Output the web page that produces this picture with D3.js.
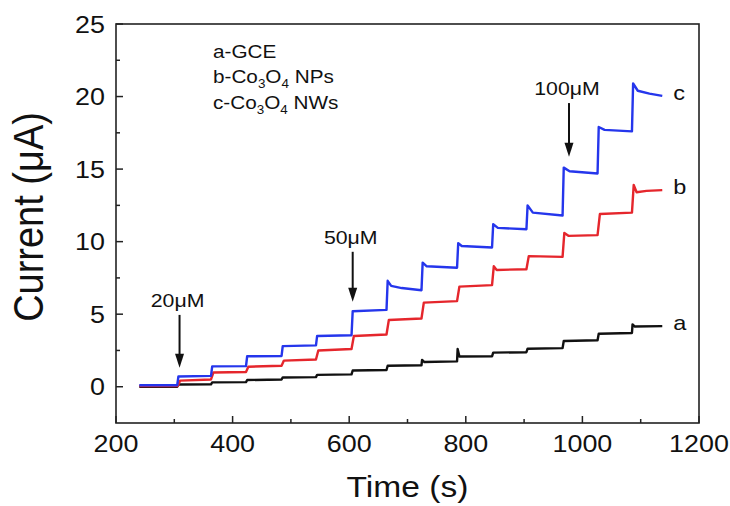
<!DOCTYPE html>
<html>
<head>
<meta charset="utf-8">
<script src="https://cdn.jsdelivr.net/npm/d3@7"></script>
<style>
	body { margin: 0; background: #fff; }
	text { font-family: Arial, "Liberation Sans", sans-serif; fill: #111; }
</style>
</head>
<body>
<svg width="730" height="506"></svg>
<script>
// Data: [time (s), current (uA)]
var curveA = [[240,0],[305,0],[307,0.15],[363,0.17],[365,0.3],[423,0.32],[425,0.46],[484,0.5],[486,0.64],[543,0.66],[545,0.82],[604,0.85],[606,1.12],[664,1.15],[666,1.45],[724,1.48],[725,1.85],[729,1.7],[785,1.75],[786,2.6],[789,2.08],[845,2.1],[847,2.35],[904,2.38],[906,2.62],[966,2.66],[968,3.15],[1026,3.2],[1028,3.65],[1085,3.7],[1086,4.3],[1090,4.15],[1137,4.18]];
var curveB = [[240,0.05],[306,0.05],[310,0.42],[363,0.5],[367,0.98],[423,1.02],[427,1.38],[484,1.45],[488,1.8],[543,1.88],[547,2.5],[604,2.6],[608,3.5],[664,3.6],[668,4.6],[724,4.7],[728,5.8],[785,5.9],[789,6.9],[845,7.0],[848,8.3],[853,8.05],[904,8.1],[908,9.0],[966,8.95],[969,10.6],[976,10.4],[1026,10.45],[1030,11.9],[1085,12.0],[1088,13.9],[1093,13.4],[1110,13.5],[1137,13.55]];
var curveC = [[240,0.1],[305,0.1],[307,0.7],[363,0.75],[365,1.4],[423,1.42],[425,2.1],[484,2.12],[486,2.8],[543,2.85],[545,3.5],[604,3.55],[606,5.2],[664,5.3],[666,7.3],[672,6.95],[690,6.8],[724,6.65],[726,8.55],[733,8.3],[785,8.2],[787,9.9],[793,9.7],[845,9.6],[847,11.2],[855,10.95],[904,10.85],[906,12.5],[915,12.0],[966,11.8],[968,15.1],[978,14.85],[1026,14.7],[1028,17.9],[1038,17.7],[1085,17.6],[1087,20.9],[1095,20.4],[1115,20.2],[1137,20.05]];

var seriesNames = ["a", "b", "c"];
var seriesColors = ["#111111", "#e5262c", "#2536ec"];
var seriesData = [curveA, curveB, curveC];

var arrowLabels = ["20\u03bcM", "50\u03bcM", "100\u03bcM"];
var arrowTimes = [309, 606, 977];
var arrowTops = [4.95, 9.3, 19.55];
var arrowTips = [1.3, 5.85, 15.85];

var xTicks = [200, 400, 600, 800, 1000, 1200];
var xMinor = [300, 500, 700, 900, 1100];
var yTicks = [0, 5, 10, 15, 20, 25];
var yMinor = [2.5, 7.5, 12.5, 17.5, 22.5];

// Sizing Stuff
var svg = d3.select("svg");
var plotLeft = 116, plotRight = 699, plotTop = 24, plotBottom = 423;
var stretch = 1.12; // the picture's text is a little wide

var xscale = d3.scaleLinear().domain([200, 1200]).range([plotLeft, plotRight]);
var yscale = d3.scaleLinear().domain([-2.5, 25]).range([plotBottom, plotTop]);

function stretchedText(x, y) {
	return svg.append("text").attr("transform", `translate(${x}, ${y}) scale(${stretch}, 1)`);
}

// curves
var line = d3.line().x((d) => xscale(d[0])).y((d) => yscale(d[1]));
seriesData.forEach((data, i) => {
	svg.append("path")
		.attr("d", line(data))
		.attr("fill", "none")
		.attr("stroke", seriesColors[i])
		.attr("stroke-width", 2.4)
		.attr("stroke-linejoin", "round");

	var last = data[data.length - 1];
	stretchedText(xscale(last[0]) + 11, yscale(last[1]) + 4)
		.style("font-size", "21px")
		.text(seriesNames[i]);
});

// frame
svg.append("rect")
	.attr("x", plotLeft).attr("y", plotTop)
	.attr("width", plotRight - plotLeft).attr("height", plotBottom - plotTop)
	.attr("fill", "none").attr("stroke", "#222").attr("stroke-width", 1.6);

// ticks point inwards
var xaxis = svg.append("g").attr("transform", `translate(0, ${plotBottom})`);
xaxis.selectAll("line.major").data(xTicks).enter().append("line")
	.attr("x1", (d) => xscale(d)).attr("x2", (d) => xscale(d))
	.attr("y1", 0).attr("y2", -7).attr("stroke", "#222").attr("stroke-width", 1.5);
xaxis.selectAll("line.minor").data(xMinor).enter().append("line")
	.attr("x1", (d) => xscale(d)).attr("x2", (d) => xscale(d))
	.attr("y1", 0).attr("y2", -4).attr("stroke", "#222").attr("stroke-width", 1.5);
xTicks.forEach((d) => {
	stretchedText(xscale(d), 452)
		.attr("text-anchor", "middle")
		.style("font-size", "24px")
		.text(d);
});

var yaxis = svg.append("g").attr("transform", `translate(${plotLeft}, 0)`);
yaxis.selectAll("line.major").data(yTicks).enter().append("line")
	.attr("y1", (d) => yscale(d)).attr("y2", (d) => yscale(d))
	.attr("x1", 0).attr("x2", 7).attr("stroke", "#222").attr("stroke-width", 1.5);
yaxis.selectAll("line.minor").data(yMinor).enter().append("line")
	.attr("y1", (d) => yscale(d)).attr("y2", (d) => yscale(d))
	.attr("x1", 0).attr("x2", 4).attr("stroke", "#222").attr("stroke-width", 1.5);
yTicks.forEach((d) => {
	stretchedText(105, yscale(d) + 8.5)
		.attr("text-anchor", "end")
		.style("font-size", "24px")
		.text(d);
});

// axis titles
stretchedText((plotLeft + plotRight) / 2, 497)
	.attr("text-anchor", "middle")
	.style("font-size", "30px")
	.text("Time (s)");

svg.append("text")
	.attr("transform", `translate(43, 217) scale(${stretch}, 1) rotate(-90)`)
	.attr("text-anchor", "middle")
	.style("font-size", "38px")
	.text("Current (\u03bcA)");

// arrows
arrowLabels.forEach((label, i) => {
	var x = xscale(arrowTimes[i]);
	var y0 = yscale(arrowTops[i]);
	var y1 = yscale(arrowTips[i]);
	svg.append("line")
		.attr("x1", x).attr("x2", x)
		.attr("y1", y0).attr("y2", y1 - 12)
		.attr("stroke", "#111").attr("stroke-width", 2);
	svg.append("path")
		.attr("d", `M${x - 4.5},${y1 - 14} L${x + 4.5},${y1 - 14} L${x},${y1} Z`)
		.attr("fill", "#111");
	stretchedText(x - 2, y0 - 8)
		.attr("text-anchor", "middle")
		.style("font-size", "19px")
		.text(label);
});

// legend
var legend = [
	["a-GCE"],
	["b-Co", "3", "O", "4", " NPs"],
	["c-Co", "3", "O", "4", " NWs"],
];
var legendBaselines = [58, 83, 109];
legend.forEach((parts, i) => {
	var text = stretchedText(213, legendBaselines[i]).style("font-size", "18.5px");
	parts.forEach((part, j) => {
		var span = text.append("tspan").text(part);
		if (j % 2 === 1) {
			span.attr("dy", 5).style("font-size", "12px");
		} else if (j > 0) {
			span.attr("dy", -5);
		}
	});
});
</script>
</body>
</html>
